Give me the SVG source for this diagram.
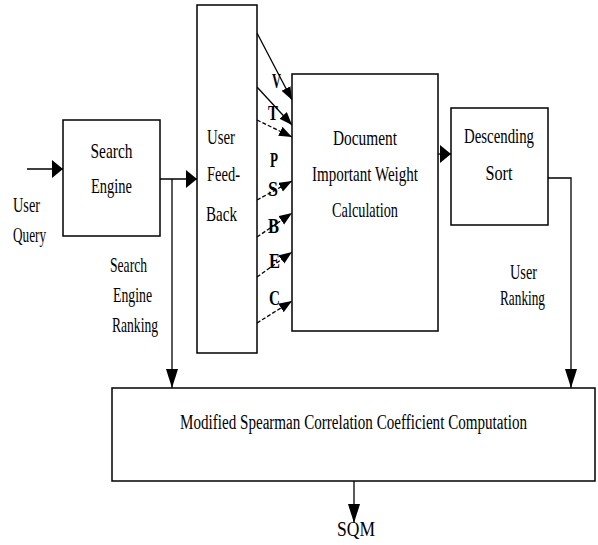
<svg xmlns="http://www.w3.org/2000/svg" width="598" height="545" viewBox="0 0 598 545">
<style>
.box{fill:#fff;stroke:#000;stroke-width:1.5}
.ln{fill:none;stroke:#000;stroke-width:1.3}
.dash{stroke-dasharray:4,2}
.t{font-family:"Liberation Serif","Times New Roman",serif;font-size:22px;fill:#000}
.m{text-anchor:middle}
.b{font-weight:bold;font-size:20px}
</style>
<defs>
<marker id="ah" markerUnits="userSpaceOnUse" markerWidth="12" markerHeight="20" refX="11" refY="9" orient="auto" viewBox="0 0 12 20">
<path d="M0,0 L11,9 L0,18 Z" fill="#000"/>
</marker>
<marker id="av" markerUnits="userSpaceOnUse" markerWidth="20" markerHeight="14" refX="19" refY="6" orient="auto" viewBox="0 0 20 14">
<path d="M0,0 L19,6 L0,12 Z" fill="#000"/>
</marker>
<marker id="as" markerUnits="userSpaceOnUse" markerWidth="14" markerHeight="12" refX="13" refY="5" orient="auto" viewBox="0 0 14 12">
<path d="M0,0 L13,5 L0,10 Z" fill="#000"/>
</marker>
</defs>
<g id="connectors">
<line class="ln" x1="27" y1="169" x2="63" y2="169" marker-end="url(#ah)"/>
<line class="ln" x1="160" y1="179" x2="197" y2="179" marker-end="url(#ah)"/>
<line class="ln" x1="172" y1="179" x2="172" y2="388" marker-end="url(#av)"/>
<line class="ln" x1="257" y1="33" x2="292" y2="100" marker-end="url(#as)"/>
<line class="ln" x1="257" y1="87" x2="292" y2="125" marker-end="url(#as)"/>
<line class="ln dash" x1="257" y1="120" x2="292" y2="137" marker-end="url(#as)"/>
<line class="ln dash" x1="257" y1="200" x2="292" y2="181" marker-end="url(#as)"/>
<line class="ln dash" x1="257" y1="237" x2="292" y2="213" marker-end="url(#as)"/>
<line class="ln dash" x1="257" y1="277" x2="292" y2="252" marker-end="url(#as)"/>
<line class="ln dash" x1="257" y1="323" x2="292" y2="301" marker-end="url(#as)"/>
<line class="ln" x1="438" y1="154" x2="451" y2="154" marker-end="url(#ah)"/>
<polyline class="ln" points="548,178 571,178 571,388" marker-end="url(#av)"/>
<line class="ln" x1="354" y1="481" x2="354" y2="523" marker-end="url(#av)"/>
</g>
<g id="search-engine">
<rect class="box" x="63" y="120" width="97" height="116"/>
<text class="t m" x="111.5" y="158" textLength="42" lengthAdjust="spacingAndGlyphs">Search</text>
<text class="t m" x="111.5" y="193" textLength="41" lengthAdjust="spacingAndGlyphs">Engine</text>
</g>
<g id="user-feedback">
<rect class="box" x="197" y="5" width="60" height="348"/>
<text class="t" x="207" y="144" textLength="28" lengthAdjust="spacingAndGlyphs">User</text>
<text class="t" x="207" y="181" textLength="33" lengthAdjust="spacingAndGlyphs">Feed-</text>
<text class="t" x="206" y="221" textLength="31" lengthAdjust="spacingAndGlyphs">Back</text>
</g>
<g id="doc-weight">
<rect class="box" x="292" y="74" width="146" height="257"/>
<text class="t m" x="365" y="145" textLength="64" lengthAdjust="spacingAndGlyphs">Document</text>
<text class="t m" x="365" y="181" textLength="106" lengthAdjust="spacingAndGlyphs">Important Weight</text>
<text class="t m" x="365" y="217" textLength="66" lengthAdjust="spacingAndGlyphs">Calculation</text>
</g>
<g id="descending-sort">
<rect class="box" x="451" y="108" width="97" height="117"/>
<text class="t m" x="499" y="143" textLength="70" lengthAdjust="spacingAndGlyphs">Descending</text>
<text class="t m" x="499" y="180" textLength="27" lengthAdjust="spacingAndGlyphs">Sort</text>
</g>
<g id="spearman">
<rect class="box" x="112" y="388" width="483" height="93"/>
<text class="t" transform="translate(180,429) scale(1,1.25)" x="0" y="0" style="font-size:17.5px" textLength="347" lengthAdjust="spacingAndGlyphs">Modified Spearman Correlation Coefficient Computation</text>
</g>
<g id="labels">
<text class="t" x="13" y="212" textLength="27" lengthAdjust="spacingAndGlyphs">User</text>
<text class="t" x="13" y="242" textLength="33" lengthAdjust="spacingAndGlyphs">Query</text>
<text class="t" x="110" y="272" textLength="37" lengthAdjust="spacingAndGlyphs">Search</text>
<text class="t" x="113" y="302" textLength="39" lengthAdjust="spacingAndGlyphs">Engine</text>
<text class="t" x="112" y="332" textLength="46" lengthAdjust="spacingAndGlyphs">Ranking</text>
<text class="t" x="510" y="279" textLength="27" lengthAdjust="spacingAndGlyphs">User</text>
<text class="t" x="500" y="305" textLength="45" lengthAdjust="spacingAndGlyphs">Ranking</text>
<text class="t" x="337" y="536" textLength="38" lengthAdjust="spacingAndGlyphs">SQM</text>
<text class="t b" x="272" y="88" textLength="9" lengthAdjust="spacingAndGlyphs">V</text>
<text class="t b" x="268" y="120" textLength="10" lengthAdjust="spacingAndGlyphs">T</text>
<text class="t b" x="270" y="167" textLength="8" lengthAdjust="spacingAndGlyphs">P</text>
<text class="t b" x="268" y="196" textLength="10" lengthAdjust="spacingAndGlyphs">S</text>
<text class="t b" x="268" y="233" textLength="11" lengthAdjust="spacingAndGlyphs">B</text>
<text class="t b" x="269" y="268" textLength="11" lengthAdjust="spacingAndGlyphs">E</text>
<text class="t b" x="269" y="305" textLength="11" lengthAdjust="spacingAndGlyphs">C</text>
</g>
</svg>
